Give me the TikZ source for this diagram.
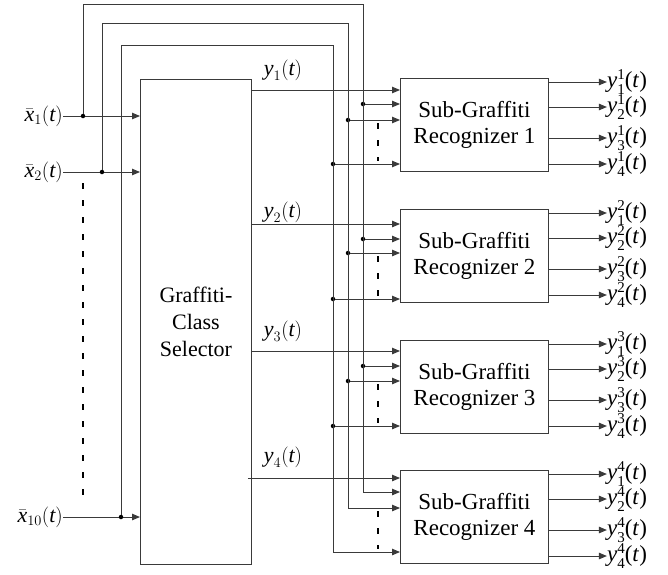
\documentclass[tikz,border=0pt]{standalone}
\usepackage{amsmath}
\usepackage{fontspec}
\setmainfont{Liberation Serif}
\newfontfamily\blockface{Liberation Serif}
\usepackage{tikz}
\usetikzlibrary{
  arrows.meta,
  positioning,
  calc,
}
\definecolor{wire}{HTML}{3A3A3A}
\tikzset{
  blockbox/.style={
    rectangle, draw=wire, line width=0.9pt, inner sep=0pt,
    align=center, font=\blockface\fontsize{23}{26}\selectfont,
  },
  wireline/.style={draw=wire, line width=0.9pt},
  arrowIn/.style={
    -{Triangle[length=8pt,width=6.5pt]}, line width=0.9pt, draw=wire,
  },
  tapdot/.style={circle, fill=black, inner sep=0pt, minimum size=4.5pt},
  gapdots/.style={draw=black, line width=2.8pt, dash pattern=on 6pt off 11pt},
  siglabel/.style={inner sep=0pt, font=\blockface\fontsize{22}{26}\selectfont},
  outlabel/.style={inner sep=0pt, font=\blockface\fontsize{23}{26}\selectfont},
}
\newcommand{\xsig}[1]{$\bar{\textit{x}}_{#1}(\textit{t})$}
\newcommand{\ysig}[1]{$\textit{y}_{#1}(\textit{t})$}
\newcommand{\idx}[1]{{\fontsize{15}{15}\selectfont #1}}
\newcommand{\ysub}[2]{\textit{y}\makebox[0pt][l]{\raisebox{0.34em}{\idx{#1}}}\raisebox{-0.3em}{\idx{#2}}(\textit{t})}

\begin{document}
\begin{tikzpicture}[x=1pt,y=-1pt]
\useasboundingbox (0,0) rectangle (668,574);

% selector block
\node[blockbox, anchor=north west, minimum width=111pt, minimum height=485pt,
  font=\blockface\fontsize{22}{27}\selectfont] (sel) at (140,79) {Graffiti-\\Class\\Selector};

% inputs
\node[siglabel, anchor=east] (xin1) at (63,116) {\xsig{1}};
\node[siglabel, anchor=east] (xin2) at (63,172) {\xsig{2}};
\node[siglabel, anchor=east] (xin10) at (63,517) {\xsig{10}};
\foreach \n in {1,2,10}
  \draw[arrowIn] (xin\n.east) -- (xin\n.east -| sel.west);
\draw[gapdots] (83,183) -- (83,505);

% feedback buses
\coordinate (busA) at (83,4);
\coordinate (busB) at (102,23);
\coordinate (busC) at (121,45);
\coordinate (rA) at (363,4);
\coordinate (rB) at (348,23);
\coordinate (rC) at (333,45);

% recognizers
\foreach \k/\top/\yl/\ys/\ly/\ia/\ib/\ic in {
    1/78/90/0/70/104/120/164,
    2/209/224/0/212/239/253/299,
    3/340/351/0/331/366/381/426,
    4/470/478/-4/457/492/508/552}{
  \node[blockbox, anchor=north west, minimum width=148pt, minimum height=93pt]
    (rec\k) at (400,\top) {Sub-Graffiti\\Recognizer \k};
  \coordinate (ina\k) at (400,\ia);
  \coordinate (inb\k) at (400,\ib);
  \coordinate (inc\k) at (400,\ic);
  \node[siglabel] (ysel\k) at (283,\ly) {\ysig{\k}};
  \draw[arrowIn] ($(sel.east |- rec\k.west |- 0,\yl)+(\ys,0)$) -- (rec\k.west |- 0,\yl);
  \draw[gapdots] (378,\ib+3) -- (378,\ic-3);
  \foreach \j/\off in {1/4,2/29,3/60,4/86}{
    \node[outlabel, anchor=west] (out\k\j) at ($(rec\k.north east)+(58,\off)$) {\ysub{\k}{\j}};
    \draw[arrowIn] (rec\k.east |- out\k\j.west) -- (out\k\j.west);
  }
}

% taps on the buses
\foreach \k in {1,2,3}{
  \node[tapdot] (tapA\k) at (rA |- ina\k) {};
  \node[tapdot] (tapB\k) at (rB |- inb\k) {};
  \node[tapdot] (tapC\k) at (rC |- inc\k) {};
  \draw[arrowIn] (tapA\k) -- (ina\k);
  \draw[arrowIn] (tapB\k) -- (inb\k);
  \draw[arrowIn] (tapC\k) -- (inc\k);
}

\node[tapdot] (tapx1) at (xin1.east -| busA) {};
\node[tapdot] (tapx2) at (xin2.east -| busB) {};
\node[tapdot] (tapx10) at (xin10.east -| busC) {};
\draw[arrowIn] (tapx1) -- (busA) -- (rA) -- (rA |- ina4) -- (ina4);
\draw[arrowIn] (tapx2) -- (busB) -- (rB) -- (rB |- inb4) -- (inb4);
\draw[arrowIn] (tapx10) -- (busC) -- (rC) -- (rC |- inc4) -- (inc4);

\end{tikzpicture}
\end{document}
